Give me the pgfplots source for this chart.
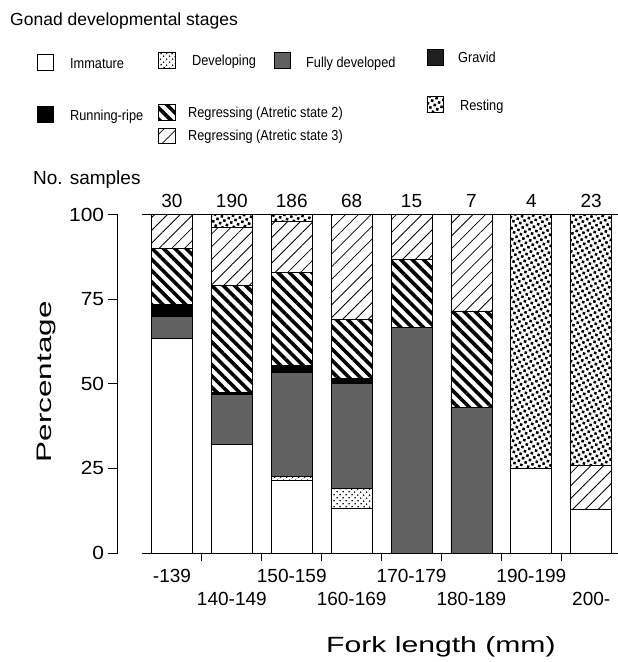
\documentclass[border=0pt]{standalone}
\usepackage{fontspec}
\setmainfont{Liberation Sans}
\usepackage{pgfplots}
\usepackage{pgfplotstable}
\pgfplotsset{compat=1.18}
\usetikzlibrary{patterns.meta}

\pgfplotstableread{
x imm  dev full rr  r2   r3   rest
0 63.3 0   6.7  3.3 16.7 10.0 0
1 32.1 0   14.7 0.5 31.6 17.4 3.7
2 21.5 1.1 30.6 2.2 27.4 15.1 2.1
3 13.2 5.9 30.9 1.5 17.6 30.9 0
4 0    0   66.7 0   20.0 13.3 0
5 0    0   42.9 0   28.6 28.5 0
6 25.0 0   0    0   0    0    75.0
7 13.0 0   0    0   0    13.0 74.0
}\data

\tikzset{
  st imm/.style={fill=white},
  st dev/.style={pattern={Dots[distance=4pt, angle=45, radius=0.9pt]}},
  st full/.style={fill=black!62},
  st grav/.style={fill=black!88},
  st rr/.style={fill=black},
  st r2/.style={pattern={Lines[angle=-45, distance=8pt, line width=3.6pt]}},
  st r3/.style={pattern={Lines[angle=45, distance=9pt, line width=0.8pt]}},
  st rest/.style={pattern={Dots[distance=5pt, angle=30, radius=1.8pt]}},
  leglab/.style={anchor=base west, inner sep=0pt, font=\fontsize{14.5}{16}\selectfont, xscale=0.88},
  legbox/.style={draw=black, line width=1pt},
}

\begin{document}
\begin{tikzpicture}[x=1pt,y=1pt]
\useasboundingbox (0,0) rectangle (618,-662);
% legend
\node[anchor=base west, inner sep=0pt, font=\fontsize{17.5}{20}\selectfont] at (10,-25) {Gonad developmental stages};
\draw[legbox, st imm] (37,-54) rectangle (53,-70);
\node[leglab] at (70,-68) {Immature};
\draw[legbox, st dev] (158,-52) rectangle (175,-68);
\node[leglab] at (192,-65) {Developing};
\draw[legbox, st full] (274,-52) rectangle (290,-68);
\node[leglab] at (306,-67) {Fully developed};
\draw[legbox, st grav] (427,-49) rectangle (443,-65);
\node[leglab] at (458,-62) {Gravid};
\draw[legbox, st rr] (37,-106) rectangle (53,-122);
\node[leglab] at (70,-120) {Running-ripe};
\draw[legbox, st r2] (158,-104) rectangle (175,-120);
\node[leglab] at (188,-117) {Regressing (Atretic state 2)};
\draw[legbox, st r3] (158,-128) rectangle (175,-143);
\node[leglab] at (188,-140) {Regressing (Atretic state 3)};
\draw[legbox, st rest] (427,-96) rectangle (443,-112);
\node[leglab] at (460,-110) {Resting};
\node[anchor=base west, inner sep=0pt, font=\fontsize{19}{22}\selectfont] at (33,-184) {No. samples};

\begin{axis}[
  at={(142pt,-553pt)}, anchor=south west,
  x=59.9pt, y=3.385pt,
  xmin=-0.5, xmax=7.446, ymin=0, ymax=100,
  ybar stacked, bar width=41pt,
  axis x line*=bottom, axis y line*=left,
  axis y line shift=24pt,
  axis line style={line width=1pt},
  clip=false,
  tick align=outside,
  major tick length=10pt, minor tick length=8pt,
  tick style={line width=1pt, black},
  major x tick style={draw=none},
  xtick={0,...,7},
  minor xtick={0.5,1.5,2.5,3.5,4.5,5.5,6.5},
  xticklabels={{\strut -139},{\strut\\\strut 140-149},{\strut 150-159},{\strut\\\strut 160-169},{\strut 170-179},{\strut\\\strut 180-189},{\strut 190-199},{\strut\\\strut 200-}},
  xticklabel style={align=center, font=\fontsize{19}{23}\selectfont, anchor=north},
  ytick={0,25,50,75,100},
  yticklabel style={font=\fontsize{19}{23}\selectfont, xscale=1.1},
  /pgf/number format/assume math mode=true,
  xlabel={Fork length (mm)},
  xlabel style={at={(axis description cs:0.628,-0.278)}, anchor=center, font=\fontsize{22}{26}\selectfont, xscale=1.37},
  ylabel={Percentage},
  ylabel style={at={(axis description cs:-0.2,0.506)}, anchor=center, rotate=0, font=\fontsize{21}{25}\selectfont, xscale=1.5},
  every axis plot/.append style={draw=black, line width=0.9pt},
]
\addplot[st imm] table[x=x, y=imm] {\data};
\addplot[st dev] table[x=x, y=dev] {\data};
\addplot[st full] table[x=x, y=full] {\data};
\addplot[st rr] table[x=x, y=rr] {\data};
\addplot[st r2] table[x=x, y=r2] {\data};
\addplot[st r3] table[x=x, y=r3] {\data};
\addplot[st rest] table[x=x, y=rest] {\data};
\draw[line width=0.8pt] (rel axis cs:0,1) -- (rel axis cs:1,1);
\node[anchor=base, inner sep=0pt, font=\fontsize{19}{23}\selectfont, yshift=7pt] at (axis cs:0,100) {30};
\node[anchor=base, inner sep=0pt, font=\fontsize{19}{23}\selectfont, yshift=7pt] at (axis cs:1,100) {190};
\node[anchor=base, inner sep=0pt, font=\fontsize{19}{23}\selectfont, yshift=7pt] at (axis cs:2,100) {186};
\node[anchor=base, inner sep=0pt, font=\fontsize{19}{23}\selectfont, yshift=7pt] at (axis cs:3,100) {68};
\node[anchor=base, inner sep=0pt, font=\fontsize{19}{23}\selectfont, yshift=7pt] at (axis cs:4,100) {15};
\node[anchor=base, inner sep=0pt, font=\fontsize{19}{23}\selectfont, yshift=7pt] at (axis cs:5,100) {7};
\node[anchor=base, inner sep=0pt, font=\fontsize{19}{23}\selectfont, yshift=7pt] at (axis cs:6,100) {4};
\node[anchor=base, inner sep=0pt, font=\fontsize{19}{23}\selectfont, yshift=7pt] at (axis cs:7,100) {23};
\end{axis}
\end{tikzpicture}
\end{document}
